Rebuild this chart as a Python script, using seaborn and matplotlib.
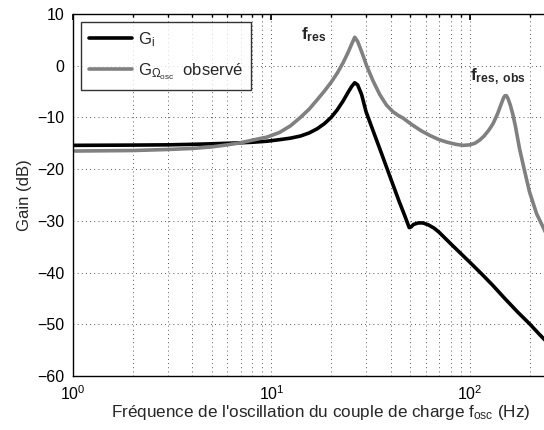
import seaborn as sns
import matplotlib.pyplot as plt
from matplotlib.ticker import LogLocator, NullFormatter

# Gain curves (frequency in Hz, gain in dB)
freq_i = [1, 2, 3, 4, 5, 6, 7, 8, 9.5, 11, 12.5, 14, 15.5, 17, 18.5, 20, 21.5, 23,
          24.3, 25.4, 26.3, 27.2, 28.5, 30, 33, 36, 40, 44, 47, 49.5, 50.5, 52,
          55, 58, 62, 66, 70, 80, 90, 100, 115, 130, 150, 175, 200, 225, 250]
gain_i = [-15.4, -15.35, -15.3, -15.2, -15.1, -15.0, -14.9, -14.8, -14.6, -14.3, -14.0, -13.6, -13.0, -12.2, -11.2, -10.0, -8.5, -6.8,
          -5.2, -4.0, -3.3, -3.7, -5.6, -8.9, -13.2, -17.1, -21.9, -26.2, -29.0, -31.3, -31.2, -30.7,
          -30.4, -30.4, -30.8, -31.4, -32.2, -34.4, -36.3, -38.0, -40.3, -42.4, -45.0, -47.7, -49.9, -52.0, -53.8]

freq_obs = [1, 2, 3, 4, 5, 6, 7, 8, 9.5, 11, 12.5, 14, 15.5, 17, 18.5, 20, 21.5, 23,
            24.3, 25.4, 26.3, 27.2, 28.5, 30.2, 32.5, 35.2, 38, 41, 43.5, 46, 49, 52,
            57, 63, 70, 77, 85, 92.5, 100, 106, 112, 118, 125, 131, 138, 144, 148,
            150.5, 153, 156, 160, 165, 170, 178, 189, 200, 217, 236, 250]
gain_obs = [-16.5, -16.4, -16.2, -16.0, -15.7, -15.3, -14.9, -14.4, -13.8, -12.9, -11.6, -10.0, -8.4, -6.6, -4.9, -3.2, -1.4, 0.6,
            2.5, 4.2, 5.5, 4.7, 2.7, 0.0, -2.9, -5.6, -7.6, -8.9, -9.6, -10.1, -10.9, -11.6,
            -12.6, -13.5, -14.3, -14.8, -15.2, -15.4, -15.3, -15.0, -14.4, -13.6, -12.4, -11.2, -9.3, -7.4, -6.2,
            -5.8, -5.8, -6.4, -7.6, -9.5, -11.8, -16.0, -20.4, -24.4, -28.6, -31.5, -33.8]

sns.set_theme(style='white')
plt.rcParams['font.family'] = ['Liberation Sans', 'DejaVu Sans']
plt.rcParams['mathtext.fontset'] = 'custom'
plt.rcParams['mathtext.rm'] = 'Liberation Sans'
plt.rcParams['mathtext.it'] = 'Liberation Sans'
plt.rcParams['mathtext.bf'] = 'Liberation Sans:bold'
plt.rcParams['axes.unicode_minus'] = True

fig = plt.figure(figsize=(5.44, 4.30), dpi=100)
# the original axes runs past the right edge of the picture
ax = fig.add_axes([73 / 544, 1 - 376 / 430, (569 - 73) / 544, 362 / 430])

sns.lineplot(x=freq_i, y=gain_i, ax=ax, color='black', linewidth=2.6,
             label=r'G$_\mathrm{i}$')
sns.lineplot(x=freq_obs, y=gain_obs, ax=ax, color='#808080', linewidth=2.6,
             label=r'G$_{\Omega_{\mathrm{osc}}}$  observé')

ax.set_xscale('log')
ax.set_xlim(1, 10 ** 2.5)
ax.set_ylim(-60, 10)
ax.set_yticks(range(-60, 11, 10))
ax.xaxis.set_major_locator(LogLocator(base=10))
ax.xaxis.set_minor_locator(LogLocator(base=10, subs=range(2, 10)))
ax.xaxis.set_minor_formatter(NullFormatter())

grid_kw = dict(color='#222222', linestyle=(0, (1, 4)), linewidth=0.6)
ax.grid(True, which='major', axis='both', **grid_kw)
ax.grid(True, which='minor', axis='x', **grid_kw)

for s in ax.spines.values():
    s.set_color('black')
    s.set_linewidth(1.0)
ax.tick_params(which='both', direction='in', top=True, right=True, labelsize=11.5,
               colors='black')
ax.tick_params(axis='y', which='major', direction='inout', length=6, pad=3)
ax.tick_params(axis='x', which='major', length=4, pad=6)
ax.tick_params(which='minor', length=2.5)

ax.set_xlabel(r"Fréquence de l'oscillation du couple de charge f$_\mathrm{osc}$ (Hz)",
              fontsize=12.3, labelpad=0)
ax.set_ylabel('Gain (dB)', fontsize=12, labelpad=4)

ax.text(19, 7.9, r'$\mathbf{f_{res}}$', fontsize=12.5, ha='right', va='top')
ax.text(100.8, -0.2, r'$\mathbf{f_{res,\ obs}}$', fontsize=12.5, ha='left', va='top')

leg = ax.legend(loc='upper left', fontsize=12, frameon=True, fancybox=False,
                handlelength=2.6, handletextpad=0.35, borderaxespad=0.45,
                labelspacing=0.75, borderpad=0.5)
leg.get_frame().set_edgecolor('black')
leg.get_frame().set_linewidth(1.0)

fig.savefig('out.png', dpi=100)
